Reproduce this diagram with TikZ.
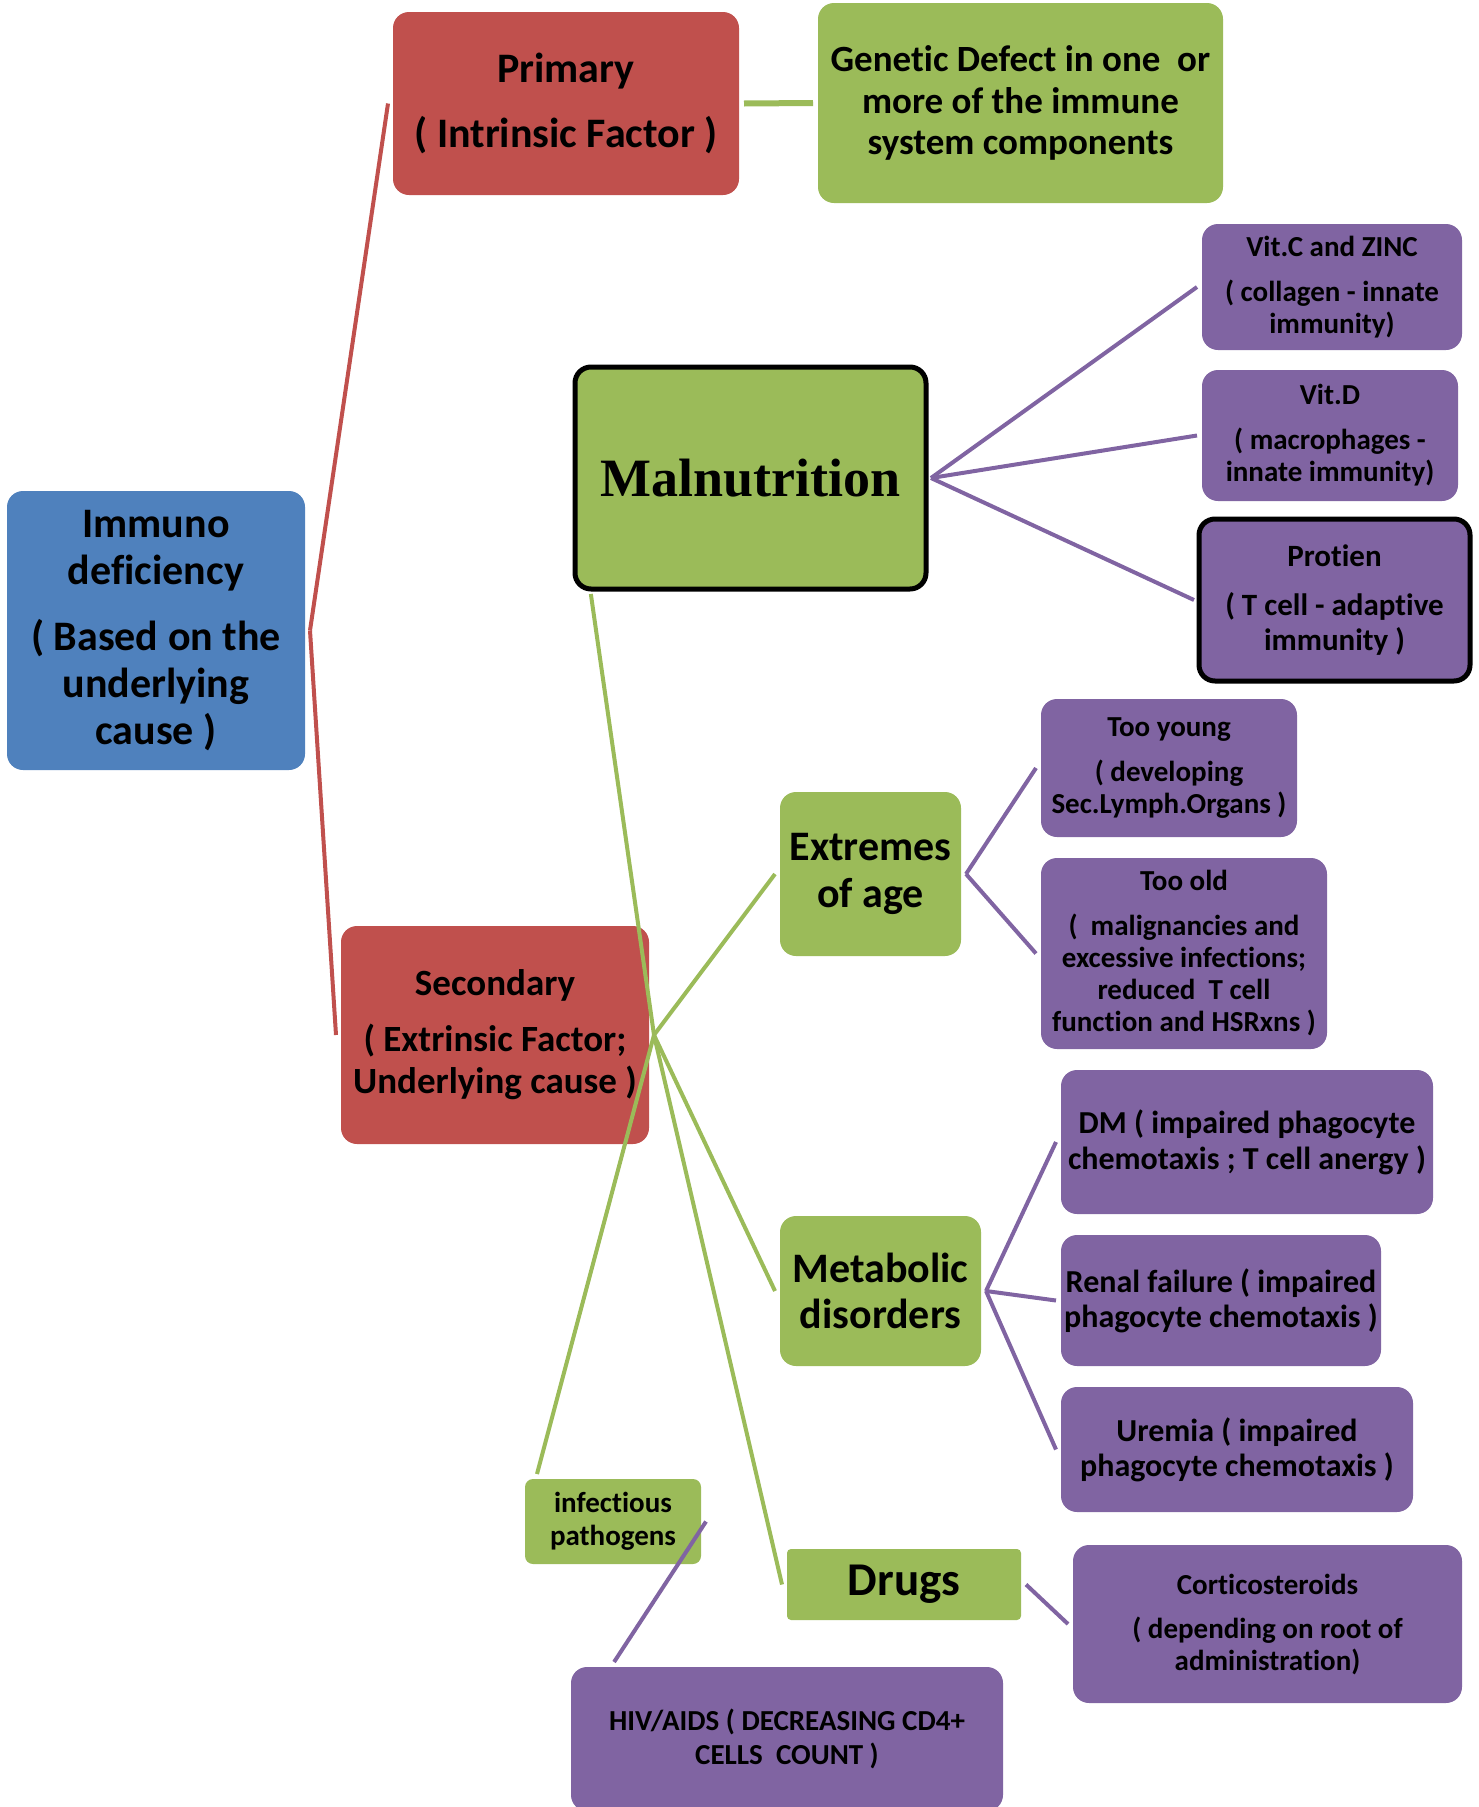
\documentclass[tikz,border=0pt]{standalone}
\usepackage{fontspec}
\setmainfont{Carlito}[Ligatures=NoCommon]
\newfontfamily\malnfont{Liberation Serif}
\usepackage{tikz}
\usetikzlibrary{calc}
\definecolor{boxblue}{HTML}{4F81BD}
\definecolor{boxred}{HTML}{C0504D}
\definecolor{boxgreen}{HTML}{9BBB59}
\definecolor{boxpurple}{HTML}{8064A2}
\newcommand{\fsz}[2]{\fontsize{#1}{#2}\selectfont\bfseries}

\begin{document}
\begin{tikzpicture}[x=1pt,y=1pt,yscale=-1,
    box/.style={rectangle, rounded corners=16pt, inner sep=2pt, outer sep=5pt, align=center, text=black},
    sz/.style 2 args={minimum width=#1pt, minimum height=#2pt},
    thickrim/.style={draw=black, line width=5pt},
    redline/.style={draw=boxred, line width=4pt},
    greenline/.style={draw=boxgreen, line width=4pt},
    purpleline/.style={draw=boxpurple, line width=4pt}]
        \useasboundingbox (0,0) rectangle (1479,1807);

        %Shape: Rectangle [root]
        \node [box, fill=boxblue, sz={298}{279}, font=\fsz{42}{47}] (immuno) at (156,630.5) {Immuno\\deficiency\\[19pt]( Based on the\\underlying\\cause )};
        %Shape: Rectangle [primary]
        \node [box, fill=boxred, sz={346}{183}, font=\fsz{42}{47}] (primary) at (566,103.5) {Primary\\[18pt]( Intrinsic Factor )};
        \node [box, fill=boxgreen, sz={405}{200}, font=\fsz{37}{41.5}] (genetic) at (1020.5,103) {Genetic Defect in one \ or\\more of the immune\\system components};
        %Shape: Rectangle [secondary]
        \node [box, fill=boxred, sz={308}{218}, font=\fsz{37}{42}] (secondary) at (495,1035) {Secondary\\[14pt]( Extrinsic Factor;\\Underlying cause )};

        %Shape: Rectangle [malnutrition]
        \node [box, fill=boxgreen, thickrim, sz={351}{222}, font={\malnfont\fontsize{54}{60}\selectfont\bfseries}] (maln) at (750.5,478) {Malnutrition};
        \node [box, fill=boxpurple, sz={260}{126}, font=\fsz{29}{32}] (vitc) at (1332,287) {Vit.C and ZINC\\[13pt]( collagen - innate\\immunity)};
        \node [box, fill=boxpurple, sz={256}{131}, font=\fsz{29}{32}] (vitd) at (1330,435.5) {Vit.D\\[13pt]( macrophages -\\innate immunity)};
        \node [box, fill=boxpurple, thickrim, sz={271}{162}, font=\fsz{31}{35}] (protien) at (1334.5,600) {Protien\\[14pt]( T cell - adaptive\\immunity )};

        %Shape: Rectangle [age]
        \node [box, fill=boxgreen, sz={181}{164}, font=\fsz{42}{47}] (extremes) at (870.5,874) {Extremes\\of age};
        \node [box, fill=boxpurple, sz={256}{138}, font=\fsz{29}{32}] (young) at (1169,768) {Too young\\[13pt]( developing\\Sec.Lymph.Organs )};
        \node [box, fill=boxpurple, sz={286}{191}, font=\fsz{29}{32}] (old) at (1184,953.5) {Too old\\[13pt](\ \ malignancies and\\excessive infections;\\reduced \ T cell\\function and HSRxns )};

        %Shape: Rectangle [metabolic]
        \node [box, fill=boxgreen, sz={201}{150}, font=\fsz{42}{46}] (metabolic) at (880.5,1291) {Metabolic\\disorders};
        \node [box, fill=boxpurple, sz={372}{144}, font=\fsz{32}{36}] (dm) at (1247,1142) {DM ( impaired phagocyte\\chemotaxis ; T cell anergy )};
        \node [box, fill=boxpurple, sz={320}{131}, font=\fsz{32}{35}] (renal) at (1221,1300.5) {Renal failure ( impaired\\phagocyte chemotaxis )};
        \node [box, fill=boxpurple, sz={352}{125}, font=\fsz{32}{35}] (uremia) at (1237,1449.5) {Uremia ( impaired\\phagocyte chemotaxis )};

        %Shape: Rectangle [drugs]
        \node [box, fill=boxgreen, rounded corners=4pt, sz={234}{71}, font=\fsz{47}{50}] (drugs) at (904,1584.5) {Drugs};
        \node [box, fill=boxpurple, sz={389}{158}, font=\fsz{29}{32}] (cortico) at (1267.5,1624) {Corticosteroids\\[12pt]( depending on root of\\administration)};

        %Shape: Rectangle [infection]
        \node [box, fill=boxgreen, rounded corners=8pt, sz={176}{85}, font=\fsz{29}{33}] (infect) at (613,1521.5) {infectious\\pathogens};
        \node [box, fill=boxpurple, sz={432}{144}, font=\fsz{29}{34}] (hiv) at (787,1739) {HIV/AIDS ( DECREASING CD4+\\CELLS \ COUNT )};

        %Straight Lines [red]
        \draw [redline] (immuno.east) -- (primary.west);
        \draw [redline] (immuno.east) -- (secondary.west);
        %Straight Lines [green]
        \draw [greenline, line width=6pt] (primary.east) -- (genetic.west);
        \draw [greenline] (secondary.east) -- (maln.216);
        \draw [greenline] (secondary.east) -- (extremes.west);
        \draw [greenline] (secondary.east) -- (metabolic.west);
        \draw [greenline] (secondary.east) -- (drugs.west);
        \draw [greenline] (secondary.east) -- (infect.148);
        %Straight Lines [purple]
        \draw [purpleline] (maln.east) -- (vitc.west);
        \draw [purpleline] (maln.east) -- (vitd.west);
        \draw [purpleline] (maln.east) -- (protien.west);
        \draw [purpleline] (extremes.east) -- (young.west);
        \draw [purpleline] (extremes.east) -- (old.west);
        \draw [purpleline] (metabolic.east) -- (dm.west);
        \draw [purpleline] (metabolic.east) -- (renal.west);
        \draw [purpleline] (metabolic.east) -- (uremia.west);
        \draw [purpleline] (drugs.east) -- (cortico.west);
        \draw [purpleline] (infect.east) -- (hiv.156);
\end{tikzpicture}
\end{document}
